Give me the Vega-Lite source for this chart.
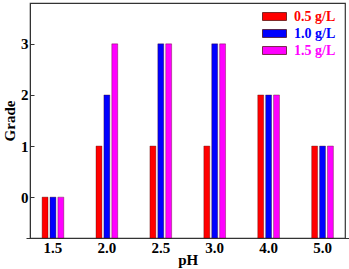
{
  "$schema": "https://vega.github.io/schema/vega-lite/v6.json",
  "width": 315,
  "height": 235,
  "autosize": {"type": "none"},
  "padding": {"left": 30, "top": 3, "right": 4, "bottom": 31},
  "background": "white",
  "config": {
    "font": "Liberation Serif",
    "view": {"stroke": "#333333", "strokeWidth": 1.2},
    "axis": {"labelFont": "Liberation Serif", "titleFont": "Liberation Serif", "labelFontWeight": "bold", "titleFontWeight": "bold", "labelColor": "black", "titleColor": "black", "domainColor": "#333333", "tickColor": "#333333", "grid": false}
  },
  "data": {
    "values": [
      {"pH": "1.5", "conc": "0.5 g/L", "grade": 0},
      {"pH": "1.5", "conc": "1.0 g/L", "grade": 0},
      {"pH": "1.5", "conc": "1.5 g/L", "grade": 0},
      {"pH": "2.0", "conc": "0.5 g/L", "grade": 1},
      {"pH": "2.0", "conc": "1.0 g/L", "grade": 2},
      {"pH": "2.0", "conc": "1.5 g/L", "grade": 3},
      {"pH": "2.5", "conc": "0.5 g/L", "grade": 1},
      {"pH": "2.5", "conc": "1.0 g/L", "grade": 3},
      {"pH": "2.5", "conc": "1.5 g/L", "grade": 3},
      {"pH": "3.0", "conc": "0.5 g/L", "grade": 1},
      {"pH": "3.0", "conc": "1.0 g/L", "grade": 3},
      {"pH": "3.0", "conc": "1.5 g/L", "grade": 3},
      {"pH": "4.0", "conc": "0.5 g/L", "grade": 2},
      {"pH": "4.0", "conc": "1.0 g/L", "grade": 2},
      {"pH": "4.0", "conc": "1.5 g/L", "grade": 2},
      {"pH": "5.0", "conc": "0.5 g/L", "grade": 1},
      {"pH": "5.0", "conc": "1.0 g/L", "grade": 1},
      {"pH": "5.0", "conc": "1.5 g/L", "grade": 1}
    ]
  },
  "mark": {"type": "bar", "strokeWidth": 0.7, "stroke": "#400000", "strokeOpacity": 0.5},
  "encoding": {
    "x": {
      "field": "pH", "type": "nominal", "sort": null,
      "scale": {"range": [-4, 319.5], "paddingInner": 0, "paddingOuter": 0},
      "axis": {"title": "pH", "labelAngle": 0, "ticks": false, "labelPadding": 2, "labelFontSize": 15, "titleFontSize": 15, "titlePadding": -3}
    },
    "xOffset": {
      "field": "conc", "type": "nominal", "sort": null,
      "scale": {"range": [16.1, 37.8], "paddingInner": 0.25, "paddingOuter": 0}
    },
    "y": {
      "field": "grade", "type": "quantitative",
      "scale": {"domain": [-0.8, 3.8], "nice": false, "zero": false},
      "axis": {"title": "Grade", "values": [0, 1, 2, 3], "format": "d", "tickSize": -4, "labelPadding": 6, "labelFontSize": 15, "titleFontSize": 15, "titlePadding": 3}
    },
    "y2": {"datum": -0.8},
    "color": {
      "field": "conc", "type": "nominal", "sort": null,
      "scale": {"domain": ["0.5 g/L", "1.0 g/L", "1.5 g/L"], "range": ["#ff0000", "#0000ff", "#ff00ff"]},
      "legend": {
        "orient": "none", "legendX": 232, "legendY": 5, "title": null,
        "symbolType": "M-1,-0.33H1V0.33H-1Z", "symbolSize": 576, "symbolStrokeWidth": 0.7, "symbolStrokeColor": "#400000",
        "labelFont": "Liberation Serif", "labelFontWeight": "bold", "labelFontSize": 14, "labelOffset": 7, "rowPadding": 0, "clipHeight": 17,
        "encode": {"labels": {"update": {"fill": {"scale": "color", "field": "value"}}}}
      }
    }
  }
}
